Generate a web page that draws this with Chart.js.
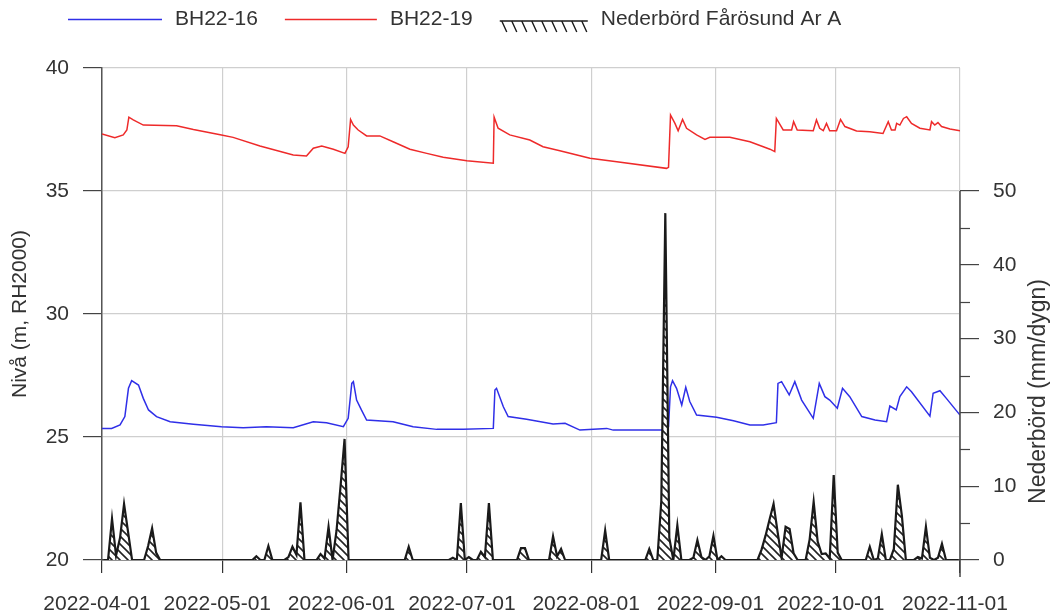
<!DOCTYPE html>
<html><head><meta charset="utf-8">
<script src="https://cdn.jsdelivr.net/npm/chart.js@4.4.1/dist/chart.umd.min.js"></script>
<style>html,body{margin:0;padding:0;background:#fff;}#wrap{width:1052px;height:616px;}</style>
</head><body><div id="wrap"><canvas id="c" width="1052" height="616"></canvas></div>
<script>
// ---- data ----
const tickLabels = ['2022-04-01','2022-05-01','2022-06-01','2022-07-01','2022-08-01','2022-09-01','2022-10-01','2022-11-01'];
const seriesNames = ['BH22-16','BH22-19','Nederbörd Fårösund Ar A'];
const leftAxisTitle = 'Nivå (m, RH2000)';
const rightAxisTitle = 'Nederbörd (mm/dygn)';
const levelTicks = [20,25,30,35,40];
const precipTicks = [0,10,20,30,40,50];
const precipMinorTicks = [5,15,25,35,45];

// days since 2022-04-01
const bh16Day = [0,2.4,4.5,5.7,6.6,7.4,9.1,10.3,11.6,13.6,17,22.8,29.8,35.2,41,47.7,52.7,56,60.2,61.4,62.3,62.7,63.5,64.7,66,72.6,77.6,83.5,90.1,97.6,98.0,98.4,100.1,101.3,105.9,112.5,115.5,119.2,125.9,127.5,140.8,141.3,141.8,142.3,143.3,144.6,145.6,146.6,148.3,153.3,157.5,161.6,164.9,168.2,168.6,169.5,171.4,172.8,174.5,177.4,178.9,180.3,181.5,183.4,184.7,186.5,189.5,192.8,195.7,196.5,198.1,199,200.7,201.9,206.5,207.3,209,210.6,214];
const bh16Level = [25.35,25.35,25.49,25.83,26.98,27.29,27.11,26.57,26.1,25.83,25.62,25.52,25.42,25.38,25.42,25.38,25.62,25.58,25.42,25.76,27.18,27.25,26.5,26.1,25.69,25.62,25.42,25.31,25.31,25.35,26.91,26.98,26.23,25.83,25.72,25.53,25.56,25.28,25.35,25.28,25.28,25.42,27.04,27.29,26.98,26.3,27.02,26.44,25.89,25.8,25.66,25.49,25.49,25.58,27.18,27.25,26.71,27.25,26.5,25.76,27.18,26.64,26.5,26.17,26.98,26.64,25.83,25.69,25.62,26.26,26.1,26.64,27.04,26.84,25.85,26.78,26.88,26.57,25.89];

const bh19Day = [0,3.2,5.3,6.2,6.7,7.8,10.3,18.6,22.8,29.8,32.7,39.4,47.7,51,52.7,54.8,57.7,60.6,61.4,62,62.7,63.9,66,69.3,72.6,76.8,81,85.1,91,97.6,97.8,98.8,101.7,106.7,110,114.2,121.7,128.4,140.8,141.3,141.8,142.9,143.7,144.8,145.8,148.3,150.4,151.6,156.6,161.6,166.6,167.8,168.2,169.9,172,172.5,173.4,177.4,178.2,179,179.9,180.7,181.5,183.2,184.2,185.3,188.2,191.5,194.8,196.1,196.9,197.8,198.2,199,199.9,200.7,201.9,204,206.5,206.9,207.7,208.5,209.4,211.5,214];
const bh19Level = [37.32,37.17,37.28,37.48,38.0,37.89,37.68,37.65,37.5,37.28,37.18,36.83,36.46,36.42,36.74,36.83,36.7,36.53,36.8,37.91,37.68,37.48,37.24,37.24,37.0,36.7,36.53,36.37,36.23,36.13,38.0,37.55,37.28,37.07,36.8,36.64,36.33,36.19,35.92,35.96,38.09,37.75,37.45,37.91,37.55,37.28,37.1,37.18,37.18,37.0,36.7,36.6,37.95,37.48,37.48,37.82,37.48,37.45,37.89,37.55,37.45,37.75,37.45,37.45,37.91,37.62,37.44,37.41,37.34,37.82,37.48,37.48,37.75,37.68,37.95,38.02,37.75,37.55,37.48,37.82,37.68,37.78,37.62,37.52,37.45];

// daily precipitation (mm/dygn), one value per day
const precipApr = [0,0,5.6,0.6,3.0,7.6,3.8,0,0,0, 0,1.9,4.3,1.0,0,0,0,0,0,0, 0,0,0,0,0,0,0,0,0,0];
const precipMay = [0,0,0,0,0,0,0,0,0.5,0, 0,1.9,0,0,0,0,0.4,1.8,0.7,7.8, 0,0,0,0,0.8,0.2,4.5,0,4.0,10.0, 16.4];
const precipJun = [0,0,0,0,0,0,0,0,0,0, 0,0,0,0,0,1.8,0,0,0,0, 0,0,0,0,0,0,0.3,0,7.7,0];
const precipJul = [0.4,0,0,1.1,0.4,7.7,0,0,0,0, 0,0,0,1.6,1.6,0,0,0,0,0, 0,3.2,0.5,1.5,0,0,0,0,0,0, 0];
const precipAug = [0,0,0,4.0,0,0,0,0,0,0, 0,0,0,0,1.5,0,0,8.0,47.0,3.0, 0,4.7,0,0,0,0.3,2.7,0.4,0,0.5, 3.3];
const precipSep = [0,0.5,0,0,0,0,0,0,0,0, 0,1.4,3.3,5.5,7.6,3.8,0.3,4.5,4.2,0.9, 0,0,0,2.8,7.9,2.5,0.8,0.9,0.2,11.5];
const precipOct = [1.0,0,0,0,0,0,0,0,1.8,0, 0.2,3.5,0,0,1.5,10.2,6.0,0,0,0, 0.4,0.2,4.5,0.3,0,0.3,2.2,0,0,0, 0];

// ---- build ----
const DAY = 86400000;
const t0 = Date.parse(tickLabels[0] + 'T00:00:00Z');
const tickDays = tickLabels.map(s => Math.round((Date.parse(s + 'T00:00:00Z') - t0) / DAY));
const precip = [].concat(precipApr, precipMay, precipJun, precipJul, precipAug, precipSep, precipOct);
const precipPts = precip.map((v, i) => ({x: i + 0.5, y: v}));   // daily sums at mid-day
const bh16Pts = bh16Day.map((d, i) => ({x: d, y: bh16Level[i]}));
const bh19Pts = bh19Day.map((d, i) => ({x: d, y: bh19Level[i]}));

const FONT = "'Liberation Sans', Arial, sans-serif";
const TXT = '#333333';
const canvas = document.getElementById('c');
const ctx = canvas.getContext('2d');

function makeHatch(size) {
  const c = document.createElement('canvas');
  c.width = size; c.height = size;
  const g = c.getContext('2d');
  g.fillStyle = '#ffffff'; g.fillRect(0, 0, size, size);
  g.strokeStyle = '#222222'; g.lineWidth = 1.6;
  g.beginPath();
  g.moveTo(-2, -2); g.lineTo(size + 2, size + 2);
  g.moveTo(-2, size - 2); g.lineTo(2, size + 2);
  g.moveTo(size - 2, -2); g.lineTo(size + 2, 2);
  g.stroke();
  return ctx.createPattern(c, 'repeat');
}
const hatch = makeHatch(8);

const colors = {bh16: '#2f2fe8', bh19: '#ee2a2a', precip: '#1a1a1a'};

const decor = {
  id: 'decor',
  afterDraw(chart) {
    const c = chart.ctx;
    const y2 = chart.scales.y2;
    const ca = chart.chartArea;
    const yTop = y2.getPixelForValue(precipTicks[precipTicks.length - 1]);
    const yBot = y2.getPixelForValue(precipTicks[0]);
    c.save();
    // right axis line (only over the precipitation range)
    c.strokeStyle = '#444'; c.lineWidth = 1.5;
    c.beginPath(); c.moveTo(ca.right, yTop); c.lineTo(ca.right, yBot + 17); c.stroke();
    // minor ticks
    c.lineWidth = 1.2;
    precipMinorTicks.forEach(v => {
      const p = Math.round(y2.getPixelForValue(v)) + 0.5;
      c.beginPath(); c.moveTo(ca.right, p); c.lineTo(ca.right + 10, p); c.stroke();
    });
    // right axis title (rotated, reading upward)
    c.fillStyle = TXT;
    c.font = '23px ' + FONT;
    c.textAlign = 'center'; c.textBaseline = 'middle';
    c.translate(1039, (yTop + yBot) / 2 + 16);
    c.rotate(-Math.PI / 2);
    c.fillText(rightAxisTitle, 0, 0);
    c.restore();

    // legend
    c.save();
    c.font = '21px ' + FONT;
    c.textBaseline = 'middle'; c.textAlign = 'left';
    c.fillStyle = TXT;
    const ly = 19.5;
    let x = 68;
    const items = [
      {name: seriesNames[0], kind: 'line', color: colors.bh16, len: 94},
      {name: seriesNames[1], kind: 'line', color: colors.bh19, len: 92},
      {name: seriesNames[2], kind: 'hatch', color: colors.precip, len: 88}
    ];
    items.forEach(it => {
      if (it.kind === 'line') {
        c.strokeStyle = it.color; c.lineWidth = 1.6;
        c.beginPath(); c.moveTo(x, ly); c.lineTo(x + it.len, ly); c.stroke();
      } else {
        c.strokeStyle = it.color; c.lineWidth = 1.4;
        c.beginPath(); c.moveTo(x, 21); c.lineTo(x + it.len, 21); c.stroke();
        c.beginPath();
        for (let hx = x + 2; hx < x + it.len - 4; hx += 10) {
          c.moveTo(hx, 21); c.lineTo(hx + 5, 32);
        }
        c.stroke();
      }
      const tx = x + it.len + 13;
      c.fillText(it.name, tx, ly);
      x = tx + c.measureText(it.name).width + 27;
    });
    c.restore();
  }
};

new Chart(ctx, {
  type: 'line',
  data: {
    datasets: [
      {label: seriesNames[2], data: precipPts, yAxisID: 'y2', borderColor: colors.precip, borderWidth: 2.2,
       backgroundColor: hatch, fill: 'origin', pointRadius: 0, tension: 0, order: 0},
      {label: seriesNames[0], data: bh16Pts, yAxisID: 'y', borderColor: colors.bh16, borderWidth: 1.5,
       pointRadius: 0, tension: 0, fill: false, order: 1},
      {label: seriesNames[1], data: bh19Pts, yAxisID: 'y', borderColor: colors.bh19, borderWidth: 1.5,
       pointRadius: 0, tension: 0, fill: false, order: 2}
    ]
  },
  options: {
    responsive: false, animation: false, devicePixelRatio: 1,
    layout: {padding: {top: 68, left: 0, right: 0, bottom: 0}},
    plugins: {legend: {display: false}, tooltip: {enabled: false}},
    scales: {
      x: {
        type: 'linear', position: 'bottom', min: tickDays[0], max: tickDays[tickDays.length - 1],
        afterBuildTicks: s => { s.ticks = tickDays.map(v => ({value: v})); },
        afterFit: s => { s.height = 56; },
        ticks: {autoSkip: false, maxRotation: 0, padding: 19, labelOffset: -5, color: TXT,
                font: {family: FONT, size: 21},
                callback: v => tickLabels[tickDays.indexOf(v)]},
        grid: {color: '#cfcfcf', lineWidth: 1.2, tickColor: '#333', tickLength: 13},
        border: {display: true, color: '#333', width: 1.5}
      },
      y: {
        position: 'left', min: levelTicks[0], max: levelTicks[levelTicks.length - 1],
        afterBuildTicks: s => { s.ticks = levelTicks.map(v => ({value: v})); },
        afterFit: s => { s.width = 102; },
        ticks: {padding: 14, color: TXT, font: {family: FONT, size: 21}},
        grid: {color: '#cfcfcf', lineWidth: 1.2, tickColor: '#444', tickLength: 19},
        border: {display: true, color: '#555', width: 1.5},
        title: {display: true, text: leftAxisTitle, color: TXT, font: {family: FONT, size: 21}, padding: {top: 8, bottom: 0}}
      },
      y2: {
        position: 'right', min: 0, max: precipTicks[precipTicks.length - 1] * (levelTicks[4] - levelTicks[0]) / (levelTicks[3] - levelTicks[0]),
        afterBuildTicks: s => { s.ticks = precipTicks.map(v => ({value: v})); },
        afterFit: s => { s.width = 92; },
        ticks: {padding: 14, color: TXT, font: {family: FONT, size: 21}},
        grid: {drawOnChartArea: false, color: '#444', tickColor: '#444', tickLength: 19, lineWidth: 1.2},
        border: {display: false}
      }
    }
  },
  plugins: [decor]
});
</script></body></html>
